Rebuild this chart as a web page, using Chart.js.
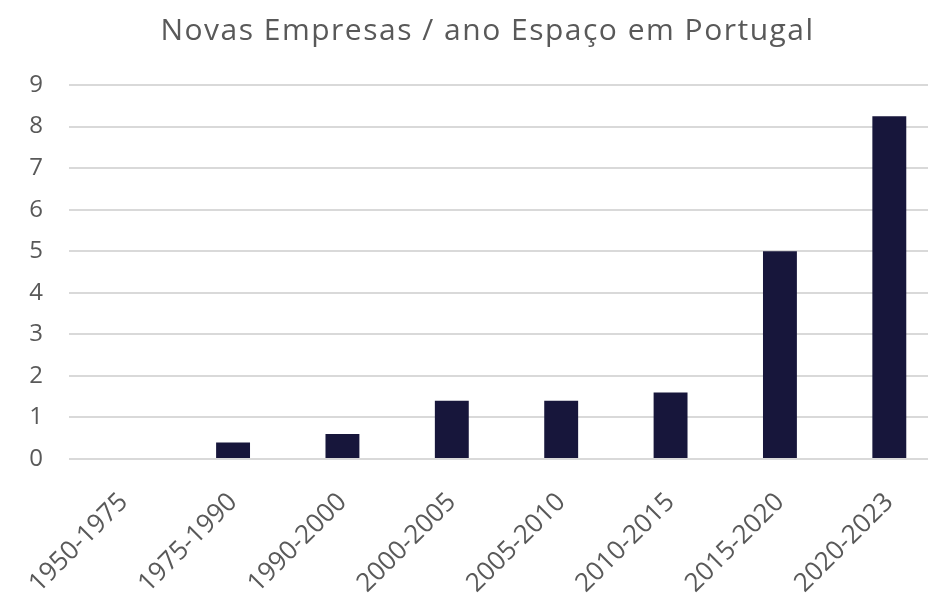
<!DOCTYPE html>
<html>
<head>
<meta charset="utf-8">
<script src="https://cdn.jsdelivr.net/npm/chart.js@4"></script>
<style>
  html, body { margin: 0; padding: 0; background: #fff; overflow: hidden; }
  #wrap { position: relative; width: 975px; height: 597px; }
  #title {
    position: absolute; left: 0; top: 14px; width: 975px;
    text-align: center; color: #595959;
    font: 30px/30px 'Open Sans', 'Liberation Sans', sans-serif;
    letter-spacing: 1.5px; white-space: nowrap;
  }
</style>
</head>
<body>
<div id="wrap">
  <div id="title"></div>
  <canvas id="chart" width="975" height="597"></canvas>
</div>
<script>
// ---------- Data ----------
const TITLE = 'Novas Empresas / ano Espaço em Portugal';
const periods = ['1950-1975', '1975-1990', '1990-2000', '2000-2005', '2005-2010', '2010-2015', '2015-2020', '2020-2023'];
const newCompaniesPerYear = [0, 0.4, 0.6, 1.4, 1.4, 1.6, 5, 8.25];
const yTicks = [0, 1, 2, 3, 4, 5, 6, 7, 8, 9];

const TEXT = '#595959';
const GRID = '#d9d9d9';
const BAR = '#17163b';
const FONT = "'Open Sans', 'Liberation Sans', sans-serif";

document.getElementById('title').textContent = TITLE;

const ctx = document.getElementById('chart').getContext('2d');
new Chart(ctx, {
  type: 'bar',
  data: {
    labels: periods,
    datasets: [{
      label: TITLE,
      data: newCompaniesPerYear,
      backgroundColor: BAR,
      categoryPercentage: 1,
      barPercentage: 0.31
    }]
  },
  options: {
    responsive: false,
    animation: false,
    layout: { padding: { top: 85, right: 31, left: 0, bottom: 0 } },
    plugins: {
      legend: { display: false },
      tooltip: { enabled: false },
      title: { display: false }
    },
    scales: {
      x: {
        grid: { display: false },
        border: { display: false },
        ticks: {
          color: TEXT,
          font: { family: FONT, size: 26 },
          minRotation: 45,
          maxRotation: 45,
          padding: 20
        },
        afterFit: (scale) => { scale.height = 138; }
      },
      y: {
        min: 0,
        max: 9,
        afterBuildTicks: (scale) => { scale.ticks = yTicks.map(v => ({ value: v })); },
        grid: { color: GRID, lineWidth: 2, drawTicks: false },
        border: { display: false },
        ticks: {
          color: TEXT,
          font: { family: FONT, size: 24 },
          padding: 26
        },
        afterFit: (scale) => { scale.width = 69; }
      }
    }
  }
});
</script>
</body>
</html>
